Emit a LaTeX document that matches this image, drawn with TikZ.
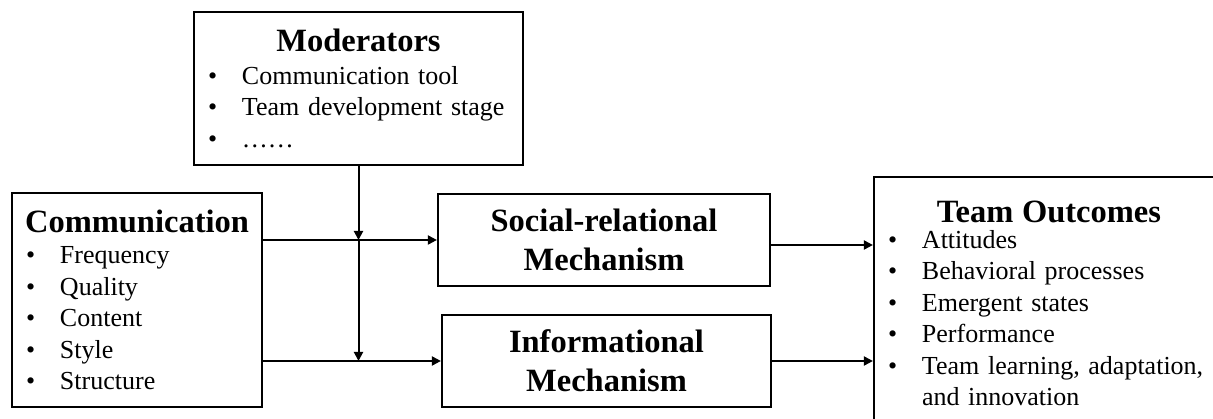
\documentclass[tikz,border=0pt]{standalone}
\usepackage{fontspec}
\setmainfont{Liberation Serif}
\usetikzlibrary{arrows.meta}

\newcommand{\bitem}[1]{\makebox[34pt][l]{\textbullet}#1}
\newcommand{\boxtitle}[1]{\makebox[\hsize][c]{\fontsize{32.5}{39}\selectfont\bfseries #1}}

\begin{document}
\begin{tikzpicture}[
    x=1pt, y=1pt,
    box/.style={rectangle, draw, line width=2.2pt, inner xsep=14pt, inner ysep=4pt,
                align=left, font=\fontsize{26}{31.5}\selectfont},
    mech/.style={rectangle, draw, line width=2.2pt, align=center,
                 font=\fontsize{32.5}{39}\selectfont\bfseries},
    arrow/.style={-{Triangle[length=9pt, width=9pt]}, line width=2pt},
]
\useasboundingbox (0,0) rectangle (1213,-419);
\fill[white] (0,0) rectangle (1213,-419);

% Moderators on top
\node[box, minimum width=329pt, minimum height=153pt, text width=301pt] (mod) at (358.5,-88.5)
    {\boxtitle{Moderators}\\[1pt]
     \bitem{Communication tool}\\
     \bitem{Team development stage}\\
     \bitem{……}};

% Input
\node[box, minimum width=250pt, minimum height=214pt, text width=222pt] (comm) at (137,-300)
    {\boxtitle{Communication}\\
     \bitem{Frequency}\\
     \bitem{Quality}\\
     \bitem{Content}\\
     \bitem{Style}\\
     \bitem{Structure}};

% Mechanisms
\node[mech, minimum width=332pt, minimum height=92pt] (soc) at (604,-240)
    {Social-relational\\Mechanism};
\node[mech, minimum width=329pt, minimum height=92pt] (inf) at (606.5,-361)
    {Informational\\Mechanism};

% Outcomes (runs off the page)
\node[box, minimum width=350pt, minimum height=253pt, text width=322pt] (out) at (1049,-303.5)
    {\boxtitle{Team Outcomes}\\[-6pt]
     \bitem{Attitudes}\\
     \bitem{Behavioral processes}\\
     \bitem{Emergent states}\\
     \bitem{Performance}\\
     \bitem{Team learning, adaptation,}\\
     \hspace*{34pt}and innovation};

% Arrows
\draw[arrow] (comm.east |- soc.west) -- (soc.west);
\draw[arrow] (comm.east |- inf.west) -- (inf.west);
\draw[arrow] (mod.south) -- (mod.south |- soc.west);
\draw[arrow] (mod.south |- soc.west) -- (mod.south |- inf.west);
\draw[arrow] ([yshift=-5pt]soc.east) -- ([yshift=-5pt]soc.east -| out.west);
\draw[arrow] (inf.east) -- (inf.east -| out.west);

\end{tikzpicture}
\end{document}
